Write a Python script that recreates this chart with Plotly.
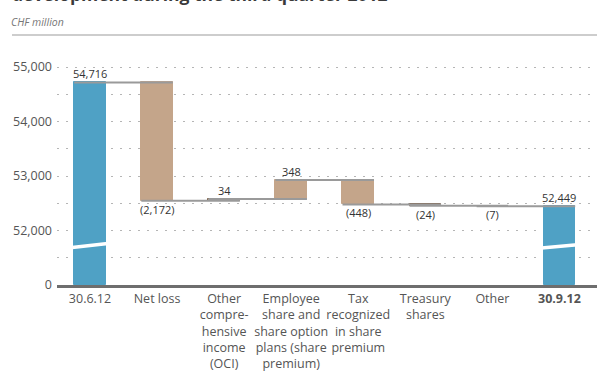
import plotly.graph_objects as go

# ---- data ----
categories = [
    "30.6.12",
    "Net loss",
    "Other<br>compre-<br>hensive<br>income<br>(OCI)",
    "Employee<br>share and<br>share option<br>plans (share<br>premium)",
    "Tax<br>recognized<br>in share<br>premium",
    "Treasury<br>shares",
    "Other",
    "<b>30.9.12</b>",
]
start_value = 54716
changes = [-2172, 34, 348, -448, -24, -7]
end_value = 52449
axis_zero_at = 51000          # position on the broken axis that is labelled "0"
tick_values = [51000, 51500, 52000, 52500, 53000, 53500, 54000, 54500, 55000]
tick_labels = ["0", "", "52,000", "", "53,000", "", "54,000", "", "55,000"]

# ---- styles ----
BLUE = "#4fa1c5"
TAN = "#c4a58a"
TAN_DARK = "#7d5f47"
GREY = "#555555"
BAR_W = 0.47
FONT = "Open Sans"

# ---- derived geometry from the data ----
n = len(categories)
xs = list(range(n))
bases, heights, colors, lcolors = [], [], [], []
levels = []  # running level after each bar
bases.append(axis_zero_at); heights.append(start_value - axis_zero_at)
colors.append(BLUE); lcolors.append(BLUE)
level = start_value
levels.append(level)
for d in changes:
    new = level + d
    bases.append(min(level, new)); heights.append(abs(d))
    colors.append(TAN)
    lcolors.append(TAN_DARK if abs(d) < 100 else TAN)
    level = new
    levels.append(level)
bases.append(axis_zero_at); heights.append(end_value - axis_zero_at)
colors.append(BLUE); lcolors.append(BLUE)
levels.append(end_value)

fig = go.Figure()

# connectors
cx, cy = [], []
for i in range(n - 1):
    cx += [i - BAR_W / 2, i + 1 + BAR_W / 2, None]
    cy += [levels[i], levels[i], None]
fig.add_trace(go.Scatter(x=cx, y=cy, mode="lines",
                         line=dict(color="#9a9a9a", width=2),
                         hoverinfo="skip", showlegend=False))

fig.add_trace(go.Bar(x=xs, y=heights, base=bases, width=BAR_W,
                     marker=dict(color=colors, line=dict(color=lcolors, width=1)),
                     showlegend=False))

# value labels
def fmt(v):
    return f"{abs(v):,}"

annos = []
annos.append(dict(x=0, y=start_value, text=fmt(start_value), yanchor="bottom"))
for i, d in enumerate(changes, start=1):
    if d >= 0:
        annos.append(dict(x=i, y=bases[i] + heights[i], text=fmt(d), yanchor="bottom"))
    else:
        annos.append(dict(x=i, y=bases[i], text=f"({fmt(d)})", yanchor="top"))
annos.append(dict(x=n - 1, y=end_value, text=fmt(end_value), yanchor="bottom"))
for a in annos:
    fig.add_annotation(xref="x", yref="y", showarrow=False, xanchor="center",
                       font=dict(family=FONT, size=11, color="#333333"),
                       borderpad=0, **a)

# axis break marks on the total bars
for i, (y0, y1) in [(0, (51690, 51760)), (n - 1, (51680, 51740))]:
    fig.add_shape(type="line", xref="x", yref="y",
                  x0=i - BAR_W / 2 - 0.03, x1=i + BAR_W / 2 + 0.03, y0=y0, y1=y1,
                  line=dict(color="white", width=3.5))

PLOT_TOP, PLOT_BOT = 40, 285
H = PLOT_BOT - PLOT_TOP
def py(pix):
    return (PLOT_BOT - pix) / H

# title (cut off at the top), unit and rule
fig.add_annotation(xref="paper", yref="paper", x=-47 / 540, y=py(8), xanchor="left",
                   yanchor="bottom", showarrow=False,
                   text="<b>development during the third quarter 2012</b>",
                   font=dict(family=FONT, size=17.5, color="#3a3a3a"))
fig.add_annotation(xref="paper", yref="paper", x=-48 / 540, y=py(22), xanchor="left",
                   yanchor="middle", showarrow=False, text="<i>CHF million</i>",
                   font=dict(family=FONT, size=10.5, color="#777777"))
fig.add_shape(type="line", xref="paper", yref="paper", x0=-45 / 540, x1=1.0,
              y0=py(35), y1=py(35), line=dict(color="#bdbdbd", width=1.5))

y_top = axis_zero_at + (PLOT_BOT - PLOT_TOP) / 54.5 * 1000

fig.update_layout(
    width=597, height=377,
    margin=dict(l=57, r=0, t=PLOT_TOP, b=377 - PLOT_BOT),
    paper_bgcolor="white", plot_bgcolor="white",
    bargap=0,
    font=dict(family=FONT, size=13, color=GREY),
    xaxis=dict(range=[-0.492, 7.56], tickmode="array", tickvals=xs, ticktext=categories,
               tickangle=0, automargin=False,
               showgrid=False, zeroline=False, showline=True, linecolor="#6e6e6e",
               linewidth=3, ticks="", tickfont=dict(size=12.5, color=GREY)),
    yaxis=dict(range=[axis_zero_at, y_top], tickmode="array", tickvals=tick_values,
               ticktext=tick_labels, showgrid=True, gridcolor="#b5b5b5", gridwidth=1.2,
               griddash="2px,7px", zeroline=False, showline=False, ticks="",
               automargin=False,
               ticklabelstandoff=4, tickfont=dict(size=12.5, color=GREY)),
)

fig.write_html("out.html", config={"displayModeBar": False},
               post_script="document.body.style.margin='0px';document.body.style.overflow='hidden';")
